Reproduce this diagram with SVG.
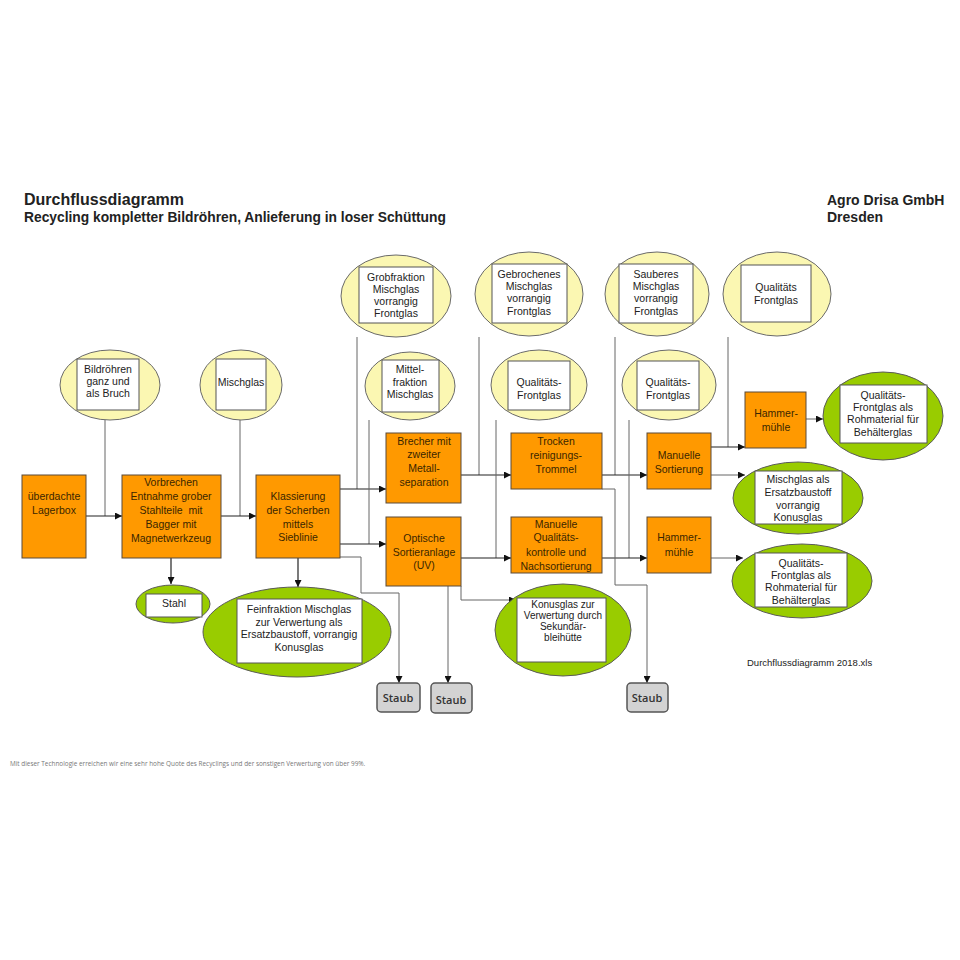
<svg xmlns="http://www.w3.org/2000/svg" width="960" height="960" viewBox="0 0 960 960">
<defs>
<marker id="ah" viewBox="0 0 10 10" refX="10" refY="5" markerWidth="8" markerHeight="7" markerUnits="userSpaceOnUse" orient="auto">
<path d="M0,0 L10,5 L0,10 z" fill="#111"/>
</marker>
<style>
.box{fill:#FF9900;stroke:#5a4a3a;stroke-width:1}
.ye{fill:#FBF7B2;stroke:#6a6a6a;stroke-width:1}
.gr{fill:#99CC00;stroke:#5a5a5a;stroke-width:1}
.in{fill:#fff;stroke:#555;stroke-width:1}
.st{fill:#D3D3D3;stroke:#555;stroke-width:1.5}
.t{font-family:"Liberation Sans",Arial,sans-serif;font-size:10.5px;fill:#222;text-anchor:middle}
.t2{font-family:"Liberation Sans",Arial,sans-serif;font-size:10px;fill:#222;text-anchor:middle}
.to{font-family:"Liberation Sans",Arial,sans-serif;font-size:10.5px;fill:#3a2600;text-anchor:middle}
.s{font-family:"Open Sans",sans-serif;font-size:11px;font-weight:600;fill:#333;text-anchor:middle}
.c{fill:none;stroke:#222;stroke-width:1.2}
.f{fill:none;stroke:#666;stroke-width:1}
</style>
</defs>
<rect width="960" height="960" fill="#fff"/>

<g id="title">
<text x="24" y="205" font-family="Liberation Sans,Arial,sans-serif" font-size="16" font-weight="bold" fill="#222">Durchflussdiagramm</text>
<text x="24" y="222" font-family="Liberation Sans,Arial,sans-serif" font-size="13.8" font-weight="bold" fill="#222">Recycling kompletter Bildröhren, Anlieferung in loser Schüttung</text>
<text x="827" y="205" font-family="Liberation Sans,Arial,sans-serif" font-size="14" font-weight="bold" fill="#222">Agro Drisa GmbH</text>
<text x="827" y="222" font-family="Liberation Sans,Arial,sans-serif" font-size="14" font-weight="bold" fill="#222">Dresden</text>
</g>

<g id="connectors">
<path class="f" d="M105,420 V516"/>
<path class="c" d="M86,516 H122" marker-end="url(#ah)"/>
<path class="f" d="M240,420 V516"/>
<path class="c" d="M221,516 H256" marker-end="url(#ah)"/>
<path class="c" d="M171,558 V584" marker-end="url(#ah)"/>
<path class="c" d="M298,558 V587" marker-end="url(#ah)"/>
<path class="f" d="M357,337 V489"/>
<path class="c" d="M340,489 H386" marker-end="url(#ah)"/>
<path class="f" d="M369,420 V544"/>
<path class="c" d="M340,544 H386" marker-end="url(#ah)"/>
<path class="f" d="M340,557 H361 V593 H399 V683" marker-end="url(#ah)"/>
<path class="f" d="M448,586 V683" marker-end="url(#ah)"/>
<path class="f" d="M479,337 V475"/>
<path class="c" d="M461,475 H511" marker-end="url(#ah)"/>
<path class="f" d="M496,420 V558"/>
<path class="c" d="M461,558 H511" marker-end="url(#ah)"/>
<path class="f" d="M461,586 V600 H516" marker-end="url(#ah)"/>
<path class="f" d="M615,337 V475"/>
<path class="c" d="M602,475 H647" marker-end="url(#ah)"/>
<path class="f" d="M629,420 V558"/>
<path class="c" d="M602,558 H647" marker-end="url(#ah)"/>
<path class="f" d="M602,489 H615 V585 H647 V683" marker-end="url(#ah)"/>
<path class="f" d="M728,337 V447"/>
<path class="c" d="M711,447 H745" marker-end="url(#ah)"/>
<path class="f" d="M711,475 H745" marker-end="url(#ah)"/>
<path class="f" d="M711,558 H743" marker-end="url(#ah)"/>
<path class="f" d="M806,419 H823" marker-end="url(#ah)"/>
</g>

<g id="n-lagerbox">
<rect class="box" x="22" y="475" width="64" height="83"/>
<text class="to" x="54" y="500">überdachte</text>
<text class="to" x="54" y="514">Lagerbox</text>
</g>
<g id="n-vorbrechen">
<rect class="box" x="122" y="475" width="99" height="83"/>
<text class="to" x="171" y="486">Vorbrechen</text>
<text class="to" x="171" y="500">Entnahme grober</text>
<text class="to" x="171" y="514" style="white-space:pre">Stahlteile  mit</text>
<text class="to" x="171" y="528">Bagger mit</text>
<text class="to" x="171" y="542">Magnetwerkzeug</text>
</g>
<g id="n-klassierung">
<rect class="box" x="256" y="475" width="84" height="83"/>
<text class="to" x="298" y="500">Klassierung</text>
<text class="to" x="298" y="514">der Scherben</text>
<text class="to" x="298" y="528">mittels</text>
<text class="to" x="298" y="541">Sieblinie</text>
</g>
<g id="n-brecher">
<rect class="box" x="386" y="433" width="75" height="70"/>
<text class="to" x="424" y="445">Brecher mit</text>
<text class="to" x="424" y="458">zweiter</text>
<text class="to" x="424" y="472">Metall-</text>
<text class="to" x="424" y="486">separation</text>
</g>
<g id="n-optische">
<rect class="box" x="386" y="517" width="75" height="69"/>
<text class="to" x="424" y="542">Optische</text>
<text class="to" x="424" y="556">Sortieranlage</text>
<text class="to" x="424" y="569">(UV)</text>
</g>
<g id="n-trocken">
<rect class="box" x="511" y="433" width="91" height="56"/>
<text class="to" x="556" y="445">Trocken</text>
<text class="to" x="556" y="459">reinigungs-</text>
<text class="to" x="556" y="473">Trommel</text>
</g>
<g id="n-qualitaetskontrolle">
<rect class="box" x="511" y="517" width="91" height="56"/>
<text class="to" x="556" y="528">Manuelle</text>
<text class="to" x="556" y="541">Qualitäts-</text>
<text class="to" x="556" y="556">kontrolle und</text>
<text class="to" x="556" y="570">Nachsortierung</text>
</g>
<g id="n-sortierung">
<rect class="box" x="647" y="433" width="64" height="56"/>
<text class="to" x="679" y="459">Manuelle</text>
<text class="to" x="679" y="473">Sortierung</text>
</g>
<g id="n-hammer-unten">
<rect class="box" x="647" y="517" width="64" height="56"/>
<text class="to" x="679" y="541">Hammer-</text>
<text class="to" x="679" y="556">mühle</text>
</g>
<g id="n-hammer-oben">
<rect class="box" x="745" y="392" width="61" height="56"/>
<text class="to" x="776" y="417">Hammer-</text>
<text class="to" x="776" y="431">mühle</text>
</g>

<g id="n-bildroehren">
<ellipse class="ye" cx="110" cy="385" rx="50" ry="35"/>
<rect class="in" x="77" y="359" width="62" height="51"/>
<text class="t" x="108" y="373">Bildröhren</text>
<text class="t" x="108" y="385">ganz und</text>
<text class="t" x="108" y="397">als Bruch</text>
</g>
<g id="n-mischglas">
<ellipse class="ye" cx="241" cy="385" rx="41" ry="35"/>
<rect class="in" x="216" y="359" width="50" height="51"/>
<text class="t" x="241" y="386">Mischglas</text>
</g>
<g id="n-grobfraktion">
<ellipse class="ye" cx="396" cy="296" rx="55" ry="41"/>
<rect class="in" x="359" y="267" width="74" height="56"/>
<text class="t" x="396" y="281">Grobfraktion</text>
<text class="t" x="396" y="293">Mischglas</text>
<text class="t" x="396" y="305">vorrangig</text>
<text class="t" x="396" y="317">Frontglas</text>
</g>
<g id="n-mittelfraktion">
<ellipse class="ye" cx="410" cy="386" rx="45" ry="34"/>
<rect class="in" x="382" y="360" width="57" height="52"/>
<text class="t" x="410" y="373">Mittel-</text>
<text class="t" x="410" y="386">fraktion</text>
<text class="t" x="410" y="398">Mischglas</text>
</g>
<g id="n-gebrochenes">
<ellipse class="ye" cx="529" cy="294" rx="54" ry="42"/>
<rect class="in" x="492" y="264" width="75" height="59"/>
<text class="t" x="529" y="278">Gebrochenes</text>
<text class="t" x="529" y="290">Mischglas</text>
<text class="t" x="529" y="302">vorrangig</text>
<text class="t" x="529" y="315">Frontglas</text>
</g>
<g id="n-qualitaet-1">
<ellipse class="ye" cx="539" cy="385" rx="48" ry="35"/>
<rect class="in" x="508" y="361" width="62" height="49"/>
<text class="t" x="539" y="386">Qualitäts-</text>
<text class="t" x="539" y="399">Frontglas</text>
</g>
<g id="n-sauberes">
<ellipse class="ye" cx="657" cy="294" rx="52" ry="42"/>
<rect class="in" x="619" y="264" width="74" height="59"/>
<text class="t" x="656" y="278">Sauberes</text>
<text class="t" x="656" y="290">Mischglas</text>
<text class="t" x="656" y="302">vorrangig</text>
<text class="t" x="656" y="315">Frontglas</text>
</g>
<g id="n-qualitaet-2">
<ellipse class="ye" cx="669" cy="385" rx="47" ry="35"/>
<rect class="in" x="637" y="361" width="62" height="49"/>
<text class="t" x="668" y="386">Qualitäts-</text>
<text class="t" x="668" y="399">Frontglas</text>
</g>
<g id="n-qualitaet-3">
<ellipse class="ye" cx="777" cy="294" rx="54" ry="42"/>
<rect class="in" x="741" y="265" width="70" height="57"/>
<text class="t" x="776" y="291">Qualitäts</text>
<text class="t" x="776" y="304">Frontglas</text>
</g>

<g id="n-stahl">
<ellipse class="gr" cx="173" cy="604" rx="37" ry="19"/>
<rect class="in" x="146" y="594" width="56" height="23"/>
<text class="t" x="174" y="607">Stahl</text>
</g>
<g id="n-feinfraktion">
<ellipse class="gr" cx="297" cy="632" rx="94" ry="45"/>
<rect class="in" x="237" y="599" width="125" height="64"/>
<text class="t" x="299" y="613">Feinfraktion Mischglas</text>
<text class="t" x="299" y="626">zur Verwertung als</text>
<text class="t" x="299" y="638">Ersatzbaustoff, vorrangig</text>
<text class="t" x="299" y="651">Konusglas</text>
</g>
<g id="n-konusglas">
<ellipse class="gr" cx="563" cy="630" rx="68" ry="46"/>
<rect class="in" x="517" y="598" width="89" height="64"/>
<text class="t2" x="563" y="608">Konusglas zur</text>
<text class="t2" x="563" y="619">Verwertung durch</text>
<text class="t2" x="563" y="630">Sekundär-</text>
<text class="t2" x="563" y="641">bleihütte</text>
</g>
<g id="n-behaelterglas-1">
<ellipse class="gr" cx="883" cy="416" rx="60" ry="44"/>
<rect class="in" x="840" y="385" width="87" height="58"/>
<text class="t" x="883" y="399">Qualitäts-</text>
<text class="t" x="883" y="411">Frontglas als</text>
<text class="t" x="883" y="423">Rohmaterial für</text>
<text class="t" x="883" y="436">Behälterglas</text>
</g>
<g id="n-ersatzbaustoff">
<ellipse class="gr" cx="798" cy="498" rx="65" ry="36"/>
<rect class="in" x="755" y="471" width="87" height="53"/>
<text class="t" x="798" y="483">Mischglas als</text>
<text class="t" x="798" y="496">Ersatzbaustoff</text>
<text class="t" x="798" y="509">vorrangig</text>
<text class="t" x="798" y="521">Konusglas</text>
</g>
<g id="n-behaelterglas-2">
<ellipse class="gr" cx="802" cy="581" rx="70" ry="37"/>
<rect class="in" x="755" y="553" width="92" height="54"/>
<text class="t" x="801" y="567">Qualitäts-</text>
<text class="t" x="801" y="579">Frontglas als</text>
<text class="t" x="801" y="591">Rohmaterial für</text>
<text class="t" x="801" y="604">Behälterglas</text>
</g>

<g id="n-staub-1">
<rect class="st" x="377" y="683" width="43" height="29" rx="4"/>
<text class="s" x="398" y="702">Staub</text>
</g>
<g id="n-staub-2">
<rect class="st" x="431" y="683" width="41" height="30" rx="4"/>
<text class="s" x="451" y="704">Staub</text>
</g>
<g id="n-staub-3">
<rect class="st" x="627" y="683" width="41" height="29" rx="4"/>
<text class="s" x="647" y="702">Staub</text>
</g>

<text x="747" y="666" font-family="Liberation Sans,Arial,sans-serif" font-size="9.5" fill="#222">Durchflussdiagramm 2018.xls</text>
<text x="10" y="766" font-family="Open Sans,sans-serif" font-size="6.4" fill="#777">Mit dieser Technologie erreichen wir eine sehr hohe Quote des Recyclings und der sonstigen Verwertung von über 99%.</text>
</svg>
